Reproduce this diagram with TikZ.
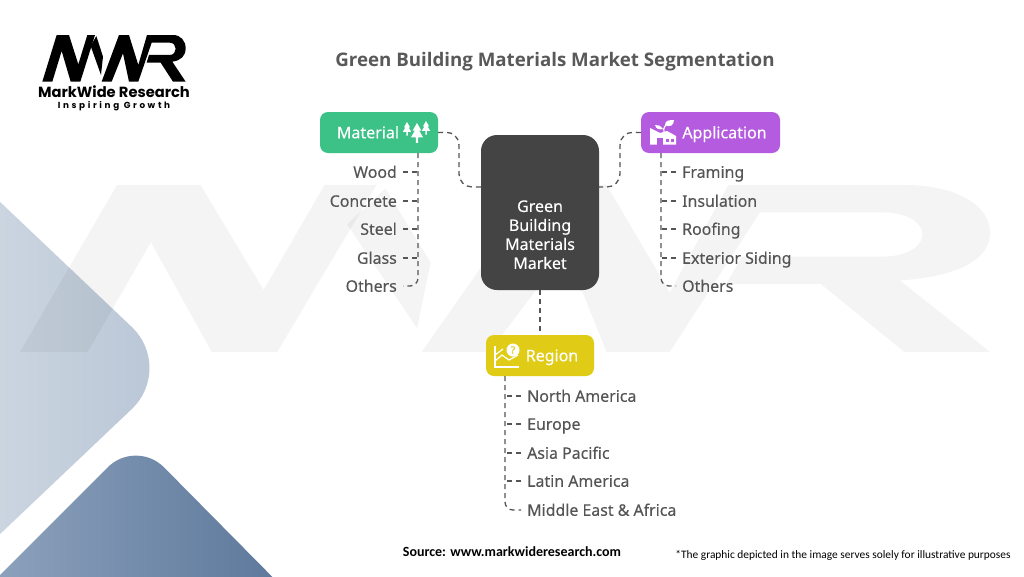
\documentclass[tikz,border=0pt]{standalone}
\usepackage{fontspec}
\setmainfont{Noto Sans}[FakeBold=0.2]
\newfontfamily\logofont{Poppins}
\newfontfamily\taglinefont[LetterSpace=30]{Poppins}
\newfontfamily\titlefont{Open Sans}
\newfontfamily\notefont{Carlito}
\usetikzlibrary{positioning}

\definecolor{hubgray}{HTML}{444444}
\definecolor{itemgray}{HTML}{555555}
\definecolor{titlegray}{HTML}{595959}
\definecolor{matgreen}{HTML}{3CC286}
\definecolor{apppurple}{HTML}{B55BE0}
\definecolor{regyellow}{HTML}{E0CC16}

\newcommand{\mwrshape}[1]{%
	\fill[#1] (70,185) -- (113,45) -- (150,45) -- (178,133) -- (205,45) -- (228,45) -- (184,185) -- (155,185) -- (128,93) -- (100,185) -- cycle;
	\fill[#1] (215,78) -- (232,48) -- (252,110) -- (246,165) -- cycle;
	\fill[#1] (248,185) -- (300,45) -- (330,45) -- (358,135) -- (384,45) -- (462,45)
		.. controls (485,45) and (500,62) .. (500,85) .. controls (500,108) and (485,122) .. (460,125)
		-- (500,185) -- (462,185) -- (425,128) -- (383,128) -- (390,105) -- (452,105)
		.. controls (476,105) and (476,68) .. (452,68) -- (398,68) -- (358,185) -- (330,185) -- (312,100) -- (278,185) -- cycle;
}

\tikzset{
	hubbox/.style={fill=hubgray, text=white, rounded corners=16pt, minimum width=118pt, minimum height=155pt, align=center, font=\fontsize{16}{19}\selectfont},
	catbox/.style={rounded corners=8pt, minimum height=41pt, text height=11.5pt, text depth=0pt, text=white, font=\fontsize{16}{19}\selectfont},
	itemleft/.style={anchor=east, inner sep=6pt, text height=11.5pt, text depth=0pt, text=itemgray, font=\fontsize{15.9}{19}\selectfont},
	itemright/.style={anchor=west, inner sep=6pt, text height=11.5pt, text depth=0pt, text=itemgray, font=\fontsize{15.9}{19}\selectfont},
	dashline/.style={draw=itemgray, line width=1.3pt, dash pattern=on 5pt off 4pt},
}

\begin{document}
\begin{tikzpicture}[x=1pt,y=-1pt]
	\useasboundingbox (0,0) rectangle (1024,576);
	\fill[white] (0,0) rectangle (1024,576);

	% corner shapes
	\begin{scope}
		\clip (0,0) rectangle (1024,576);
		\shade[left color={rgb,255:red,214;green,222;blue,231}, right color={rgb,255:red,184;green,197;blue,213}, rounded corners=60pt] (-100,107) -- (175,368) -- (-100,629) -- cycle;
		\shade[left color={rgb,255:red,146;green,166;blue,192}, right color={rgb,255:red,88;green,116;blue,152}, rounded corners=40pt] (-40,615) -- (136,439) -- (310,615) -- cycle;
		% watermark
		\begin{scope}[shift={(-137.9,131.3)}, x=2.256pt, y=-1.193pt]
			\mwrshape{black, opacity=0.045}
		\end{scope}
	\end{scope}

	% logo
	\begin{scope}[shift={(19,20)}, x=0.3333pt, y=-0.3333pt]
		\mwrshape{black}
	\end{scope}
	\node[inner sep=0pt] (logoname) at (114,92) {\logofont\bfseries\fontsize{14.7}{15}\selectfont MarkWide Research};
	\node[inner sep=0pt] (logotag) at (114,106) {\taglinefont\fontsize{8.8}{10}\selectfont\bfseries Inspiring Growth};

	\node (charttitle) at (555,62) {\titlefont\bfseries\fontsize{18.7}{22}\selectfont\color{titlegray} Green Building Materials Market Segmentation};

	% boxes
	\node[hubbox] (market) at (540,212.5) {\mbox{}\\[37pt]Green\\Building\\Materials\\Market};
	\node[catbox, fill=matgreen, minimum width=118pt] (material) at (379,132.5) {\hspace*{-22pt}Material};
	\node[catbox, fill=apppurple, minimum width=139pt] (application) at (710.5,132.5) {\hspace*{28pt}Application};
	\node[catbox, fill=regyellow, minimum width=108pt] (region) at (540,355.5) {\hspace*{24pt}Region};

	% material items
	\foreach \name/\ypos/\lab in {matA/172/Wood, matB/201/Concrete, matC/229/Steel, matD/258/Glass, matE/286/Others}
		\node[itemleft] (\name) at (403,\ypos) {\lab};
	% application items
	\foreach \name/\ypos/\lab in {appA/172/Framing, appB/201/Insulation, appC/229/Roofing, appD/258/Exterior Siding, appE/286/Others}
		\node[itemright] (\name) at (676,\ypos) {\lab};
	% region items
	\foreach \name/\ypos/\lab in {regA/396/North America, regB/424/Europe, regC/453/Asia Pacific, regD/481/Latin America, regE/510/Middle East \& Africa}
		\node[itemright] (\name) at (521,\ypos) {\lab};

	% connectors
	\coordinate (hubL) at (481,187);
	\coordinate (hubR) at (599,187);
	\coordinate (matbend) at (459,132);
	\coordinate (appbend) at (620,132);
	\coordinate (mattop) at (418,153);
	\coordinate (apptop) at (661,153);
	\coordinate (regtop) at (505,376);
	\draw[dashline, rounded corners=13pt] (material.east) -- (matbend) |- (hubL);
	\draw[dashline, rounded corners=13pt] (application.west) -- (appbend) |- (hubR);
	\draw[dashline] (market.south) -- (region.north);
	\draw[dashline, rounded corners=8pt] (mattop) |- (matE.east);
	\draw[dashline, rounded corners=8pt] (apptop) |- (appE.west);
	\draw[dashline, rounded corners=8pt] (regtop) |- (regE.west);
	\foreach \name in {matA,matB,matC,matD}
		\draw[dashline] (\name.east) -- (mattop |- \name.east);
	\foreach \name in {appA,appB,appC,appD}
		\draw[dashline] (\name.west) -- (apptop |- \name.west);
	\foreach \name in {regA,regB,regC,regD}
		\draw[dashline] (\name.west) -- (regtop |- \name.west);

	% tree icon
	\foreach \tx/\ty/\ts in {407/122/0.75, 426/121/0.75, 417/123/1.1}
		\fill[white, shift={(\tx,\ty)}, scale=\ts] (0,0) -- (4,7) -- (2,7) -- (5.5,13) -- (1,13) -- (1,18) -- (-1,18) -- (-1,13) -- (-5.5,13) -- (-2,7) -- (-4,7) -- cycle;

	% factory icon
	\fill[white] (650,144.5) -- (650,128) -- (660,133) -- (667,131) -- (676,136) -- (676,144.5) -- cycle;
	\fill[apppurple] (657,144.5) rectangle (663,138);
	\foreach \wx in {666,671}
		\fill[apppurple] (\wx,139) rectangle ++(2.5,2.5);
	\draw[white, line width=1.2pt] (664,132) .. controls (663,128) and (665,125) .. (668,124);
	\fill[white] (665,125) .. controls (665,120) and (670,120) .. (674,120) .. controls (674,125) and (670,128) .. (665,125) -- cycle;
	\fill[white] (663,129) .. controls (660,125) and (658,125) .. (655,125) .. controls (656,129) and (659,130) .. (663,129) -- cycle;

	% chart icon
	\draw[white, line width=1.2pt] (495,346) -- (495,367) -- (519,367);
	\draw[white, line width=1.2pt] (495,361) -- (502,355) -- (509,360) -- (518,355);
	\draw[white, line width=1.2pt] (495,355) -- (503,349);
	\fill[white] (513,350) circle (6.5);
	\node[inner sep=0pt, text=regyellow] (regionmark) at (513,350) {\fontsize{10}{10}\selectfont\bfseries ?};

	% footer
	\node (sourcenote) at (512,551.5) {\notefont\bfseries\fontsize{14}{16}\selectfont Source: www.markwideresearch.com};
	\node (disclaimer) at (843,555.5) {\notefont\fontsize{11.4}{13}\selectfont *The graphic depicted in the image serves solely for illustrative purposes};
\end{tikzpicture}
\end{document}
